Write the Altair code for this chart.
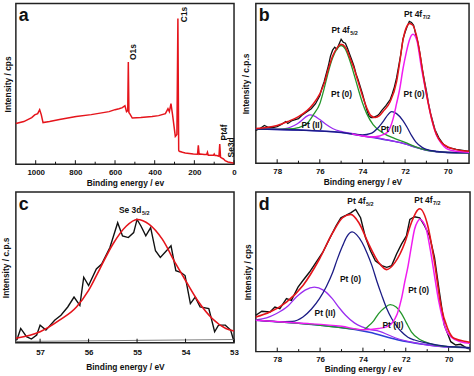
import altair as alt
import pandas as pd

FONT = "Liberation Sans"
RED = "#e5141b"
GREEN = "#23962a"
PURPLE = "#9a2cf0"
NAVY = "#1b1b85"
MAGENTA = "#f01cf0"
BGBLUE = "#3a2ec8"
BLACK = "#111111"

# ---------------- panel a : survey ----------------
A_BE = [1100, 1060, 1020, 1005, 990, 980, 972, 963, 930, 880, 796, 720, 630, 600, 580, 563, 550, 542, 536, 533,
        530, 526, 513, 470, 413, 380, 346, 333, 326, 318, 310, 296, 288, 283, 279, 276, 260, 246, 205, 184,
        180, 176, 171, 150, 138, 134, 130, 104, 100, 96, 88, 76, 72, 68, 63, 55, 50, 45, 30, 5, 0]
A_INT = [41, 43, 47, 49.7, 51, 55, 50, 42, 43, 45, 48, 50, 53, 55, 56, 57, 59, 53, 54, 103,
         52, 51, 46.5, 47, 48, 49, 51, 56, 53, 61, 50, 28, 30, 147, 14, 13, 12, 11.3, 10.3, 10,
         19, 10, 10.3, 9.8, 9.7, 12, 9, 9, 10.3, 8.7, 8.7, 8, 20.3, 7, 6.3, 5.5, 4.7, 3.5, 2.3, 1.3, 1.3]
A_TICKS = [1000, 800, 600, 400, 200, 0]
A_MINOR = [900, 700, 500, 300, 100]
A_LAB_T = ["O1s", "C1s", "Pt4f", "Se3d"]
A_LAB_BE = [507, 250, 52, 17]
A_LAB_I = [113, 151, 32, 17]

# ---------------- panel b : Pt 4f ----------------
B_RAW_BE = [79.0, 78.8, 78.6, 78.4, 78.2, 78.0, 77.8, 77.6, 77.5, 77.3, 77.0, 76.8, 76.6, 76.4, 76.2, 76.0, 75.9, 75.8,
            75.6, 75.5, 75.4, 75.3, 75.2, 75.1, 75.0, 74.9, 74.8, 74.7, 74.6, 74.5, 74.4, 74.3, 74.2, 74.0, 73.9, 73.8,
            73.7, 73.6, 73.5, 73.4, 73.3, 73.2, 73.1, 72.9, 72.7, 72.6, 72.5, 72.4, 72.3, 72.2, 72.1, 72.0, 71.9, 71.8,
            71.7, 71.6, 71.5, 71.4, 71.3, 71.2, 71.1, 71.0, 70.9, 70.8, 70.6, 70.4, 70.2, 70.0, 69.6, 69.0]
B_RAW_INT = [33, 35, 38, 36, 36, 37, 39, 42, 40, 43, 45, 49, 52, 55, 60, 68, 76, 82,
             98, 108, 114, 117, 115, 120, 125, 122, 121, 116, 110, 104, 98, 90, 84, 70, 62, 54,
             48, 46, 46, 47, 48, 50, 53, 58, 64, 70, 77, 86, 98, 110, 125, 132, 138, 143,
             142, 139, 130, 122, 110, 96, 84, 73, 60, 50, 34, 25, 19, 16, 14, 12]
B_FIT_BE = [79, 78.5, 78, 77.5, 77, 76.6, 76.3, 76.0, 75.8, 75.6, 75.4, 75.2, 75.0, 74.8, 74.6, 74.4, 74.2, 74.0, 73.8,
            73.6, 73.4, 73.2, 73.0, 72.7, 72.4, 72.25, 72.1, 71.94, 71.79, 71.63, 71.47, 71.3, 71.16, 70.93, 70.6,
            70.2, 69.6, 69]
B_FIT_INT = [35, 36, 38, 42, 47, 53, 60, 70, 80, 95, 108, 116, 120, 117, 107, 96, 82, 68, 56,
             48, 46, 48, 53, 62, 82, 102, 124, 137, 141, 139, 129, 110, 90, 62, 33, 19, 13.7, 12]
B_BG_BE = [79, 78, 77, 76, 75, 74.5, 74, 73.5, 73, 72.5, 72, 71.5, 71, 70.5, 70, 69]
B_BG_INT = [34.5, 34, 33.5, 32.5, 31, 29.5, 27.5, 26, 24, 22, 19.5, 16, 13, 11.5, 10.8, 10.5]
B_P_BE = [79, 78, 77.5, 77.2, 77, 76.8, 76.6, 76.45, 76.3, 76, 75.7, 75.4, 75, 74.5, 74, 73.5, 73, 72, 71, 70, 69]
B_P_INT = [34.5, 34.2, 35.5, 38, 40.5, 44, 47.5, 48.7, 48, 44, 39, 35, 32, 30, 27.8, 26.2, 24.2, 19.6, 13.1, 10.8, 10.5]
B_G_BE = [79, 78, 77.5, 77, 76.6, 76.3, 76.0, 75.8, 75.6, 75.4, 75.2, 75.0, 74.8, 74.6, 74.4, 74.2, 74.0, 73.8, 73.5,
          73.0, 72.5, 72.0, 71.5, 71.0, 70.5, 70, 69]
B_G_INT = [34.5, 34.2, 34.5, 36, 40, 49, 60, 75, 92, 106, 115, 118.7, 115, 104, 90, 75, 61, 50, 39,
           30, 25, 21, 16.5, 13.2, 11.6, 10.8, 10.5]
B_N_BE = [79, 77, 75, 74.5, 74.0, 73.6, 73.3, 73.0, 72.8, 72.63, 72.4, 72.1, 71.9, 71.7, 71.5, 71.2, 71.0, 70.5, 70, 69]
B_N_INT = [34.5, 33.5, 31, 29.6, 28.5, 30, 35, 43, 49, 52, 50, 43, 36, 28, 21.5, 16, 14, 11.8, 10.9, 10.5]
B_M_BE = [74.5, 74, 73.6, 73.2, 73.0, 72.8, 72.56, 72.4, 72.25, 72.1, 71.94, 71.8, 71.63, 71.45, 71.24, 71.0, 70.75,
          70.54, 70.3, 70.07, 69.6, 69]
B_M_INT = [29.6, 27.5, 26.5, 27.5, 29, 32, 45, 60, 75, 95, 112, 124, 130, 124, 97, 70, 44, 29, 20, 15, 12, 11]
B_LAB_T = ["Pt (0)", "Pt (0)", "Pt (II)", "Pt (II)"]
B_LAB_BE = [74.98, 71.58, 76.37, 72.65]
B_LAB_I = [70, 70, 39, 34]
B_HEAD_BE = [74.6, 71.2]
B_HEAD_I = [131, 147]
B_HEAD_SUB = ["5/2", "7/2"]

# ---------------- panel c : Se 3d ----------------
C_RAW_BE = [57.48, 57.4, 57.28, 57.18, 57.07, 57.0, 56.88, 56.7, 56.57, 56.43, 56.3, 56.18, 56.1, 56.0, 55.84, 55.73,
            55.56, 55.4, 55.3, 55.18, 55.07, 55.0, 54.92, 54.82, 54.72, 54.62, 54.52, 54.3, 54.2, 54.1, 54.01, 53.9,
            53.8, 53.7, 53.52, 53.4, 53.32, 53.18, 53.07, 53.0]
C_RAW_INT = [2.7, 14.4, 6, 3.7, 7.7, 17.7, 12.7, 22.7, 27.7, 36, 46, 37.7, 66, 57.7, 74.3, 79.4,
             96, 121, 107.7, 106, 111, 124.3, 117.7, 107.7, 116, 92.7, 86, 97.7, 72.7, 71, 67.7, 39.4,
             46, 36, 34.4, 11, 17.7, 17.7, 12.7, 1]
C_FIT_BE = [57.5, 57.0, 56.6, 56.25, 56.0, 55.77, 55.5, 55.22, 55.0, 54.75, 54.48, 54.2, 54.0, 53.73, 53.45, 53.17, 53.0]
C_FIT_INT = [4.4, 11, 22.7, 36, 52.7, 74.3, 99.3, 117.7, 124.3, 119.4, 104.4, 79.4, 62.7, 41, 24.4, 14.4, 11.7]
C_BG_BE = [57.5, 53.0]
C_BG_INT = [1.2, 3.2]
C_TICKS = [57, 56, 55, 54, 53]

# ---------------- panel d : Pt 4f ----------------
D_RAW_BE = [79.0, 78.72, 78.34, 78.11, 77.88, 77.57, 77.34, 77.03, 76.8, 76.5, 76.19, 75.88, 75.57, 75.26, 75.03, 74.8,
            74.57, 74.34, 74.11, 73.88, 73.65, 73.42, 73.12, 72.89, 72.66, 72.43, 72.2, 71.97, 71.81, 71.59, 71.35,
            71.12, 70.89, 70.66, 70.43, 70.2, 69.9, 69.67, 69.44, 69.13, 69.0]
D_RAW_INT = [36.7, 40.7, 40, 45, 43.4, 53.4, 51.7, 65, 71.7, 80, 90, 100, 113.4, 126.7, 135, 137.4,
             140, 143.4, 135, 115, 101.7, 91.7, 86.7, 85, 86.7, 98.4, 108.4, 116.7, 133.4, 136, 135,
             126.7, 116.7, 95, 60, 26.7, 10, 6.7, 7.4, 3.4, 2.7]
D_FIT_BE = [79.0, 78.34, 77.57, 76.8, 76.03, 75.41, 74.95, 74.57, 74.19, 73.73, 73.27, 72.89, 72.5, 72.04, 71.74,
            71.35, 70.97, 70.66, 70.36, 70.05, 69.75, 69.13, 69.0]
D_FIT_INT = [35, 40, 50, 66.7, 93.4, 120, 135, 138.4, 130, 108.4, 90, 82.7, 90, 110, 130, 144, 126.7, 90, 46.7,
             23.4, 13.4, 10, 9.5]
D_BG_BE = [79, 77, 75.3, 73.7, 72.4, 71.2, 70.2, 69]
D_BG_INT = [31.7, 28.5, 25, 19.5, 12, 7.5, 5, 4]
D_N_BE = [79, 78, 77.3, 76.8, 76.4, 76.03, 75.7, 75.41, 75.2, 74.95, 74.75, 74.5, 74.3, 74.04, 73.8, 73.58, 73.35,
          73.12, 72.9, 72.66, 72.4, 72.2, 71.9, 71.59, 71, 70.2, 69]
D_N_INT = [31.7, 30.3, 30.5, 35, 43, 53.4, 66, 80, 93, 106.7, 116, 120.7, 118, 110, 99, 86.7, 71,
           56.7, 44, 33.4, 25, 20, 14.5, 11.7, 8.5, 5.5, 4]
D_P_BE = [79, 78.5, 78.03, 77.5, 77.11, 76.7, 76.27, 75.85, 75.43, 75.1, 74.81, 74.4, 74.04, 73.6, 73.27, 72.5, 71.5,
          70.5, 69]
D_P_INT = [32, 34, 38.4, 46, 55, 62, 65, 62, 53.4, 44, 36.7, 29, 25, 22, 20.7, 14, 8.5, 5.3, 4]
D_G_BE = [79, 76, 74.5, 74.0, 73.73, 73.5, 73.27, 73.0, 72.73, 72.45, 72.2, 71.97, 71.74, 71.4, 71.13, 70.7, 70, 69]
D_G_INT = [31.7, 26.5, 23, 22, 26, 31, 38.4, 44, 47.4, 45, 38.4, 29, 20, 13, 10, 7, 5, 4]
D_M_BE = [79, 77, 75, 74, 73.27, 72.9, 72.66, 72.4, 72.2, 72.05, 71.89, 71.74, 71.59, 71.45, 71.35, 71.2, 71.04,
          70.85, 70.66, 70.47, 70.28, 70.1, 69.9, 69.44, 69.0]
D_M_INT = [31.7, 28.8, 25.5, 22, 23.4, 25, 28.4, 38, 53.4, 70, 86.7, 106, 123.4, 131, 133.4, 131, 123.4,
           102, 76.7, 52, 33.4, 21, 15, 10, 8.4]
D_LAB_T = ["Pt (0)", "Pt (0)", "Pt (II)", "Pt (II)"]
D_LAB_BE = [74.58, 71.4, 75.77, 72.6]
D_LAB_I = [73, 62, 39, 27]
D_HEAD_BE = [73.88, 70.75]
D_HEAD_I = [149, 150]
D_HEAD_SUB = ["5/2", "7/2"]

PT_TICKS = [78, 76, 74, 72, 70]
PT_MINOR = [77, 75, 73, 71]


def panel(w, h, xdom, ydom, series, ticks, minor, xtitle, ytitle, letter,
          lab_pad=4, x_title_pad=2, y_title_pad=4, texts=(), heads=None):
    xs = alt.Scale(domain=xdom, reverse=True, nice=False, zero=False)
    ys = alt.Scale(domain=ydom, nice=False, zero=False)
    xax = alt.Axis(values=ticks, format="d", ticks=False, domain=False, grid=False,
                   labelFont=FONT, labelFontWeight="bold", labelFontSize=8, labelColor=BLACK,
                   labelPadding=lab_pad, labelFlush=False, labelOverlap=False,
                   title=xtitle, titleFont=FONT, titleFontWeight="bold", titleFontSize=8.5,
                   titleColor=BLACK, titlePadding=x_title_pad)
    yax = alt.Axis(labels=False, ticks=False, domain=False, grid=False,
                   title=ytitle, titleFont=FONT, titleFontWeight="bold", titleFontSize=8.5,
                   titleColor=BLACK, titlePadding=y_title_pad)
    X = alt.X("be:Q", scale=xs, axis=xax)
    Y = alt.Y("inten:Q", scale=ys, axis=yax)
    layers = []
    for (be, it, color, sw, interp) in series:
        df = pd.DataFrame({"be": be, "inten": it})
        layers.append(
            alt.Chart(df).mark_line(color=color, strokeWidth=sw, interpolate=interp).encode(x=X, y=Y)
        )
    layers.append(
        alt.Chart(pd.DataFrame({"be": ticks})).mark_rule(color=BLACK, strokeWidth=1).encode(
            x=X, y=alt.value(h), y2=alt.value(h - 4))
    )
    if minor:
        layers.append(
            alt.Chart(pd.DataFrame({"be": minor})).mark_rule(color=BLACK, strokeWidth=1).encode(
                x=X, y=alt.value(h), y2=alt.value(h - 2.5))
        )
    for (tb, ti, tt, kw) in texts:
        layers.append(
            alt.Chart(pd.DataFrame({"be": tb, "inten": ti, "t": tt})).mark_text(
                font=FONT, fontWeight="bold", color=BLACK, **kw).encode(x=X, y=Y, text="t:N")
        )
    if heads:
        hb, hi, hsub, main = heads
        df = pd.DataFrame({"be": hb, "inten": hi, "t": [main] * len(hb), "s": hsub})
        layers.append(
            alt.Chart(df).mark_text(font=FONT, fontWeight="bold", color=BLACK, fontSize=8.5,
                                    align="right", baseline="alphabetic").encode(x=X, y=Y, text="t:N")
        )
        layers.append(
            alt.Chart(df).mark_text(font=FONT, fontWeight="bold", color=BLACK, fontSize=5.5,
                                    align="left", baseline="alphabetic", dx=0.5, dy=2).encode(x=X, y=Y, text="s:N")
        )
    layers.append(
        alt.Chart(pd.DataFrame({"t": [letter]})).mark_text(
            font=FONT, fontWeight="bold", fontSize=18, color=BLACK, align="left",
            baseline="alphabetic").encode(x=alt.value(3), y=alt.value(18), text="t:N")
    )
    return alt.layer(*layers).properties(width=w, height=h)


pa = panel(220, 162, [0, 1100], [0, 162],
           [(A_BE, A_INT, RED, 1.5, "linear")],
           A_TICKS, A_MINOR, "Binding energy / ev", "Intensity / cps", "a",
           y_title_pad=3.5,
           texts=[(A_LAB_BE, A_LAB_I, A_LAB_T, dict(angle=270, fontSize=8.5, align="center", baseline="middle"))])

pb = panel(215, 161, [69, 79], [0, 161],
           [(B_RAW_BE, B_RAW_INT, BLACK, 1.3, "linear"),
            (B_BG_BE, B_BG_INT, BGBLUE, 1.5, "monotone"),
            (B_P_BE, B_P_INT, PURPLE, 1.3, "monotone"),
            (B_G_BE, B_G_INT, GREEN, 1.3, "monotone"),
            (B_N_BE, B_N_INT, NAVY, 1.3, "monotone"),
            (B_M_BE, B_M_INT, MAGENTA, 1.5, "monotone"),
            (B_FIT_BE, B_FIT_INT, RED, 1.5, "monotone")],
           PT_TICKS, PT_MINOR, "Binding energy / eV", "Intensity / c.p.s", "b",
           y_title_pad=5,
           texts=[(B_LAB_BE, B_LAB_I, B_LAB_T, dict(fontSize=8.5, align="center", baseline="middle"))],
           heads=(B_HEAD_BE, B_HEAD_I, B_HEAD_SUB, "Pt 4f"))

pc = panel(220, 152, [53, 57.5], [0, 152],
           [(C_RAW_BE, C_RAW_INT, BLACK, 1.4, "linear"),
            (C_BG_BE, C_BG_INT, "#808080", 1.2, "linear"),
            (C_FIT_BE, C_FIT_INT, RED, 1.6, "monotone")],
           C_TICKS, [], "Binding energy / eV", "Intensity / c.p.s", "c",
           lab_pad=6, x_title_pad=6, y_title_pad=5,
           heads=([54.91], [131], ["5/2"], "Se 3d"))

pd_ = panel(216, 161, [69, 79], [0, 161],
            [(D_RAW_BE, D_RAW_INT, BLACK, 1.4, "linear"),
             (D_BG_BE, D_BG_INT, "#2b3fd6", 1.5, "monotone"),
             (D_P_BE, D_P_INT, PURPLE, 1.3, "monotone"),
             (D_G_BE, D_G_INT, GREEN, 1.3, "monotone"),
             (D_N_BE, D_N_INT, NAVY, 1.3, "monotone"),
             (D_M_BE, D_M_INT, MAGENTA, 1.5, "monotone"),
             (D_FIT_BE, D_FIT_INT, RED, 1.6, "monotone")],
            PT_TICKS, PT_MINOR, "Binding energy / ev", "Intensity / cps", "d",
            lab_pad=4, x_title_pad=1.5, y_title_pad=3.5,
            texts=[(D_LAB_BE, D_LAB_I, D_LAB_T, dict(fontSize=8.5, align="center", baseline="middle"))],
            heads=(D_HEAD_BE, D_HEAD_I, D_HEAD_SUB, "Pt 4f"))

chart = alt.concat(pa, pb, pc, pd_, columns=2, spacing={"row": 28, "column": 22}, bounds="flush").properties(
    padding={"left": 1, "top": 1, "right": 0, "bottom": 0}, background="white"
).configure_view(stroke="#222222", strokeWidth=1.5)

chart.save("out.html", embed_options={"renderer": "svg", "actions": False})
